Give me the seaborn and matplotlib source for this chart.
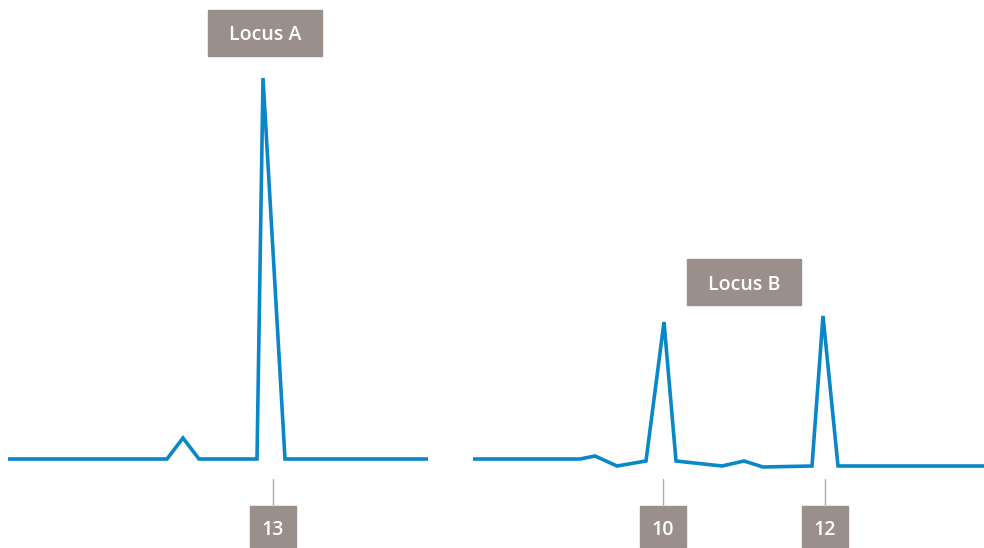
import matplotlib
matplotlib.use("Agg")
import matplotlib.pyplot as plt
from matplotlib.patches import Rectangle
import seaborn as sns
import pandas as pd

# Locus A trace (scan position, signal)
locus_a_pos = [0, 159, 175, 191, 249, 255, 277, 420]
locus_a_sig = [0, 0, 21, 0, 0, 381, 0, 0]
locus_a_alleles = ["13"]
locus_a_allele_pos = [265]

# Locus B trace
locus_b_pos = [0, 107, 122, 144, 173, 191, 203, 249, 271, 290, 339, 350, 365, 511]
locus_b_sig = [0, 0, 3, -7, -2, 137, -2, -7, -2, -8, -7, 143, -7, -7]
locus_b_alleles = ["10", "12"]
locus_b_allele_pos = [190, 352]

LINE = "#0a87c9"
BOX = "#9a8f8a"
TICK = "#b3aba7"

sns.set_style("white")
plt.rcParams["font.family"] = ["Open Sans", "DejaVu Sans"]

fig = plt.figure(figsize=(9.84, 5.48), dpi=100)
W, H = 984, 548
ylim = (-89, 459)


def draw_locus(ax, pos, sig, name, name_xy, alleles, allele_pos):
    df = pd.DataFrame({"pos": pos, "sig": sig})
    sns.lineplot(data=df, x="pos", y="sig", ax=ax, color=LINE, lw=2.6,
                 sort=False, solid_joinstyle="miter")
    ax.set_ylim(*ylim)
    ax.set_xlim(pos[0], pos[-1])
    ax.axis("off")
    # locus name box
    nx, ny = name_xy
    ax.add_patch(Rectangle((nx - 57, ny - 23), 114, 46, color=BOX, clip_on=False))
    ax.text(nx, ny - 2.5, name, ha="center", va="center", color="white",
            fontsize=14, fontweight="semibold")
    # allele labels
    for lab, x in zip(alleles, allele_pos):
        ax.plot([x, x], [-20, -47], color=TICK, lw=1, clip_on=False)
        ax.add_patch(Rectangle((x - 23, -88), 46, 41, color=BOX, clip_on=False))
        ax.text(x, -71, lab, ha="center", va="center", color="white",
                fontsize=14, fontweight="semibold")


ax_a = fig.add_axes([8 / W, 0, 420 / W, 1])
draw_locus(ax_a, locus_a_pos, locus_a_sig, "Locus A", (257, 426),
           locus_a_alleles, locus_a_allele_pos)

ax_b = fig.add_axes([473 / W, 0, 511 / W, 1])
draw_locus(ax_b, locus_b_pos, locus_b_sig, "Locus B", (271, 177),
           locus_b_alleles, locus_b_allele_pos)

fig.savefig("out.png", dpi=100)
